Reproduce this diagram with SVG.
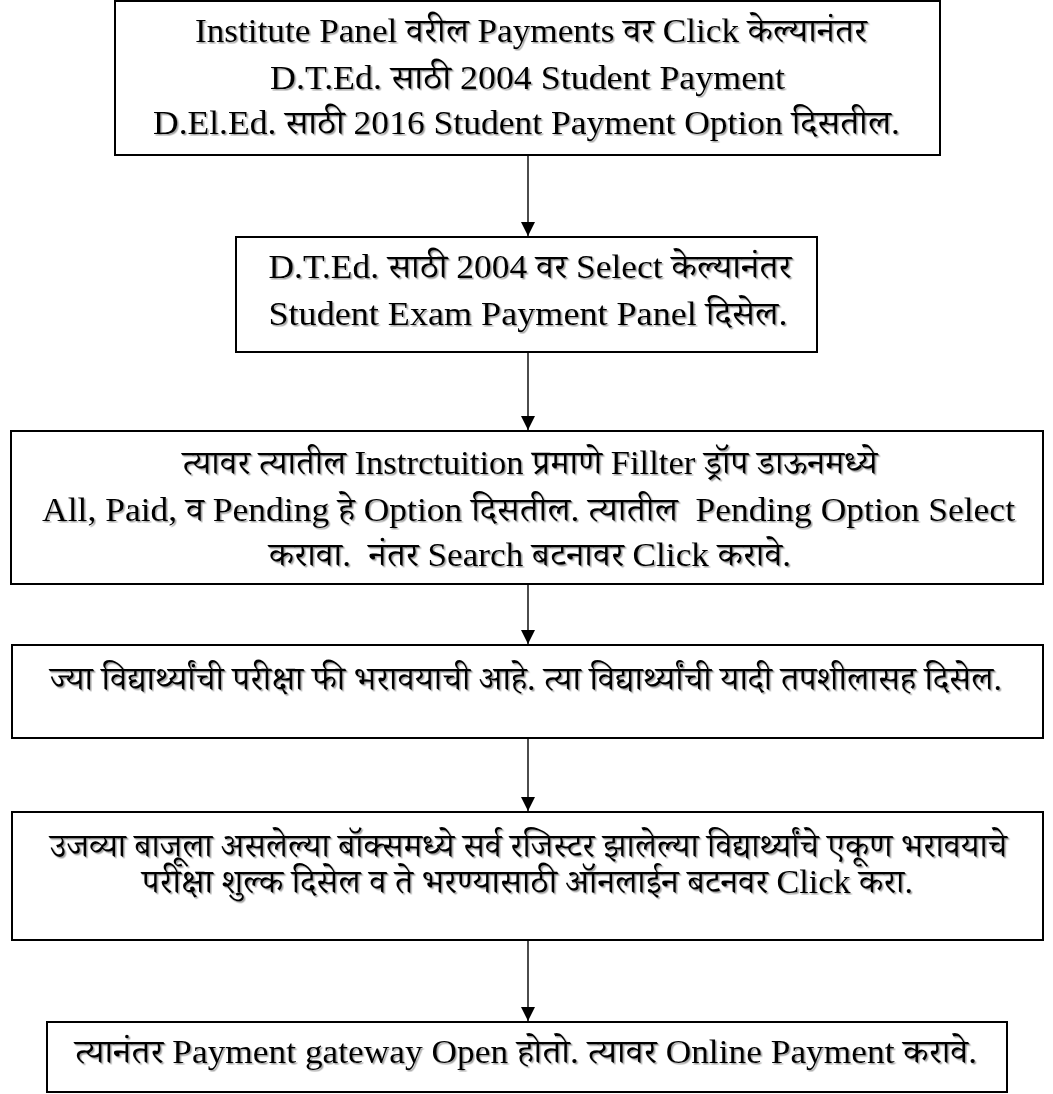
<svg xmlns="http://www.w3.org/2000/svg" width="1053" height="1094" viewBox="0 0 1053 1094">
<defs>
<style>
.box{fill:#fff;stroke:#000;stroke-width:2}
.t{font-family:"Liberation Serif","Noto Serif Devanagari","Noto Sans Devanagari","Noto Sans",serif;font-size:34px;fill:#000;text-anchor:middle;filter:url(#sh)}
.c{stroke:#000;stroke-width:1.4;fill:none;marker-end:url(#ah)}
</style>
<filter id="sh" x="-5%" y="-30%" width="110%" height="160%">
<feDropShadow dx="1.5" dy="1.5" stdDeviation="0.7" flood-color="#666" flood-opacity="0.6"/>
</filter>
<marker id="ah" markerUnits="userSpaceOnUse" markerWidth="14" markerHeight="14" viewBox="0 0 14 14" refX="14" refY="7" orient="auto">
<path d="M0,0 L14,7 L0,14 Z" fill="#000"/>
</marker>
</defs>
<rect width="1053" height="1094" fill="#fff"/>
<g id="n1">
<rect class="box" x="115" y="1" width="825" height="154"/>
<text class="t" x="531" y="42" textLength="672" lengthAdjust="spacingAndGlyphs">Institute Panel वरील Payments वर Click केल्यानंतर</text>
<text class="t" x="527.5" y="89" textLength="515" lengthAdjust="spacingAndGlyphs">D.T.Ed. साठी 2004 Student Payment</text>
<text class="t" x="526.5" y="134" textLength="747" lengthAdjust="spacingAndGlyphs">D.El.Ed. साठी 2016 Student Payment Option दिसतील.</text>
</g>
<g id="n2">
<rect class="box" x="236" y="237" width="581" height="115"/>
<text class="t" x="530" y="278" textLength="523" lengthAdjust="spacingAndGlyphs">D.T.Ed. साठी 2004 वर Select केल्यानंतर</text>
<text class="t" x="528" y="325" textLength="519" lengthAdjust="spacingAndGlyphs">Student Exam Payment Panel दिसेल.</text>
</g>
<g id="n3">
<rect class="box" x="11" y="431" width="1032" height="153"/>
<text class="t" x="530" y="474" textLength="695" lengthAdjust="spacingAndGlyphs">त्यावर त्यातील Instrctuition प्रमाणे Fillter ड्रॉप डाऊनमध्ये</text>
<text class="t" x="528.5" y="521" textLength="973" lengthAdjust="spacingAndGlyphs" xml:space="preserve">All, Paid, व Pending हे Option दिसतील. त्यातील  Pending Option Select</text>
<text class="t" x="530" y="566" textLength="522" lengthAdjust="spacingAndGlyphs" xml:space="preserve">करावा.  नंतर Search बटनावर Click करावे.</text>
</g>
<g id="n4">
<rect class="box" x="12" y="645" width="1031" height="93"/>
<text class="t" x="526" y="690" textLength="952" lengthAdjust="spacingAndGlyphs">ज्या विद्यार्थ्यांची परीक्षा फी भरावयाची आहे. त्या विद्यार्थ्यांची यादी तपशीलासह दिसेल.</text>
</g>
<g id="n5">
<rect class="box" x="12" y="812" width="1031" height="128"/>
<text class="t" x="528.5" y="857" textLength="957" lengthAdjust="spacingAndGlyphs">उजव्या बाजूला असलेल्या बॉक्समध्ये सर्व रजिस्टर झालेल्या विद्यार्थ्यांचे एकूण भरावयाचे</text>
<text class="t" x="527.5" y="893" textLength="771" lengthAdjust="spacingAndGlyphs">परीक्षा शुल्क दिसेल व ते भरण्यासाठी ऑनलाईन बटनवर Click करा.</text>
</g>
<g id="n6">
<rect class="box" x="47" y="1022" width="960" height="70"/>
<text class="t" x="526" y="1063" textLength="902" lengthAdjust="spacingAndGlyphs">त्यानंतर Payment gateway Open होतो. त्यावर Online Payment करावे.</text>
</g>
<g id="connectors">
<line class="c" x1="528" y1="156" x2="528" y2="236"/>
<line class="c" x1="528" y1="353" x2="528" y2="430"/>
<line class="c" x1="528" y1="585" x2="528" y2="644"/>
<line class="c" x1="528" y1="739" x2="528" y2="811"/>
<line class="c" x1="528" y1="941" x2="528" y2="1021"/>
</g>
</svg>
